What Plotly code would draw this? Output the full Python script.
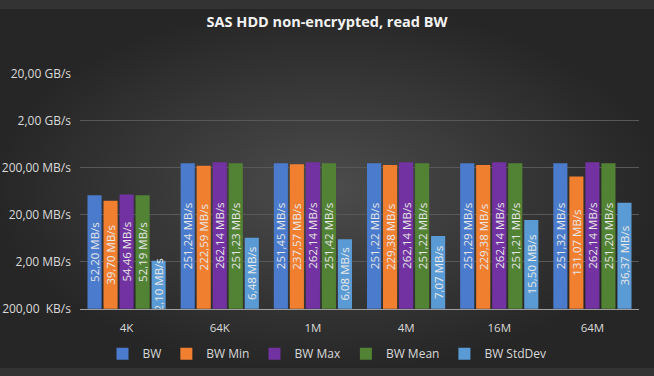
import plotly.graph_objects as go
import math

categories = ["4K", "64K", "1M", "4M", "16M", "64M"]
series_names = ["BW", "BW Min", "BW Max", "BW Mean", "BW StdDev"]
bw = [52.20, 251.24, 251.45, 251.22, 251.29, 251.32]
bw_min = [39.70, 222.59, 237.57, 229.38, 229.38, 131.07]
bw_max = [54.46, 262.14, 262.14, 262.14, 262.14, 262.14]
bw_mean = [52.19, 251.23, 251.42, 251.22, 251.21, 251.20]
bw_std = [2.10, 6.48, 6.08, 7.07, 15.50, 36.37]
tick_vals = [0.2, 2, 20, 200, 2000, 20000]
tick_text = ["200,00\u00a0\u00a0KB/s", "2,00 MB/s", "20,00 MB/s", "200,00 MB/s", "2,00 GB/s", "20,00 GB/s"]

colors = ["#4a7bcc", "#f07f30", "#7232a1", "#528233", "#5b9bd5"]
all_series = [bw, bw_min, bw_max, bw_mean, bw_std]

def fmt(v):
    return f"{v:.2f}".replace(".", ",") + " MB/s"

fig = go.Figure()

# radial gradient background
fig.add_trace(go.Scatter(
    x=[-0.01, 1.01, 1.01, -0.01, -0.01], y=[-0.01, -0.01, 1.01, 1.01, -0.01], mode="lines",
    line=dict(width=0),
    fill="toself",
    fillgradient=dict(type="radial", colorscale=[[0, "#4c4c4c"], [1, "#262626"]]),
    xaxis="x", yaxis="y", showlegend=False, hoverinfo="skip"))

for name, vals, col in zip(series_names, all_series, colors):
    fig.add_trace(go.Bar(
        name=name, x=categories, y=vals, marker=dict(color=col, line=dict(width=0)),
        text=[fmt(v) for v in vals], textposition="inside", textangle=-90,
        insidetextanchor="middle", constraintext="none",
        textfont=dict(color="#e8e8e8", size=11.5, family="Open Sans"),
        xaxis="x2", yaxis="y2"))

fig.update_layout(
    width=654, height=376,
    margin=dict(l=0, r=0, t=0, b=0),
    paper_bgcolor="#333333", plot_bgcolor="rgba(0,0,0,0)",
    barmode="group", bargap=0.14, bargroupgap=0.12,
    font=dict(family="Open Sans", color="#d9d9d9", size=12),
    title=dict(text="<b>SAS HDD non-encrypted, read BW</b>", x=0.5, xanchor="center",
               y=1 - 22 / 376, yanchor="middle",
               font=dict(size=14.5, color="#f2f2f2", family="Open Sans")),
    xaxis=dict(domain=[0, 1], range=[0, 1], visible=False, fixedrange=True),
    yaxis=dict(domain=[0, 1], range=[0, 1], visible=False, fixedrange=True),
    xaxis2=dict(domain=[80 / 654, 639 / 654], anchor="y2", showline=True, linecolor="#a0a0a0",
                linewidth=1, showgrid=False, ticks="", ticklabelstandoff=8,
                tickfont=dict(size=11.5, color="#d9d9d9")),
    yaxis2=dict(domain=[(376 - 314) / 376, (376 - 68) / 376], anchor="x2", type="log",
                range=[math.log10(0.2), math.log10(20000)], tickvals=tick_vals, ticktext=tick_text,
                showgrid=True, gridcolor="#585858", gridwidth=1, zeroline=False, showline=False,
                ticks="", ticklabelstandoff=8, tickfont=dict(size=12, color="#d9d9d9")),
    legend=dict(orientation="h", x=0.5, xanchor="center", y=(376 - 361) / 376, yanchor="middle",
                font=dict(size=12, color="#d9d9d9"), bgcolor="rgba(0,0,0,0)",
                itemwidth=30, traceorder="normal"),
    showlegend=True,
)

fig.write_html("out.html", config={"displayModeBar": False},
               post_script="document.body.style.margin='0px';")
